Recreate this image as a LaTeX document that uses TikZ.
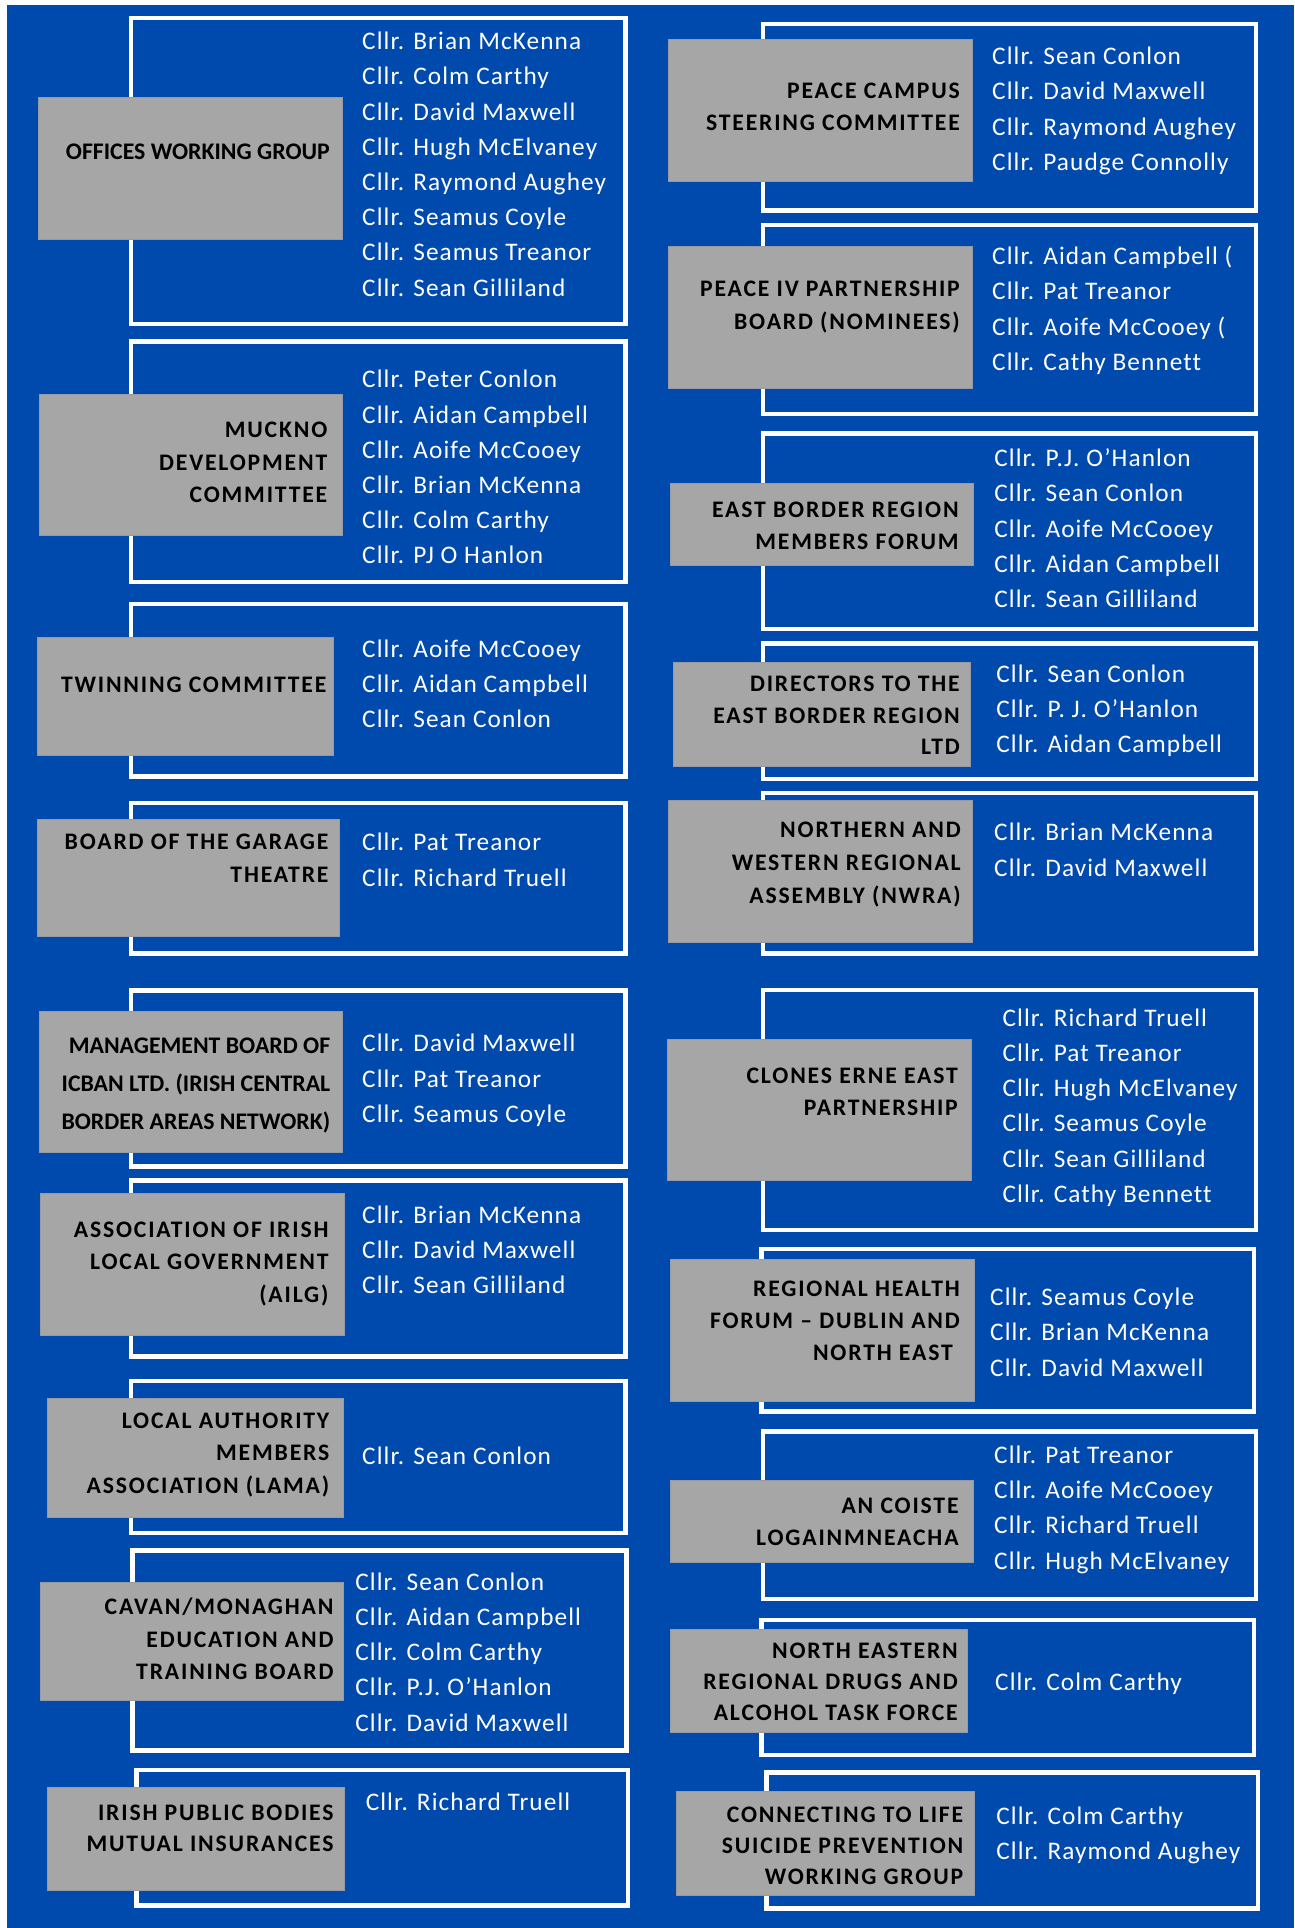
\documentclass[tikz,border=0pt]{standalone}
\usepackage{fontspec}
\newfontfamily\memfont[LetterSpace=4.3,Ligatures=NoCommon]{Carlito}
\newfontfamily\labfont[LetterSpace=7.7,Ligatures=NoCommon]{Carlito}
\newfontfamily\labtight[Ligatures=NoCommon]{Carlito}
\definecolor{bgblue}{RGB}{0,74,173}
\definecolor{boxgrey}{RGB}{166,166,166}
\definecolor{boxedge}{RGB}{150,154,165}
\newcommand\cfr[5]{\draw[frame] (#2,#3) rectangle (#4,#5);}
\newcommand\cgr[5]{\node[greybox, minimum width={#4-#2}, minimum height={#5-#3}] (#1) at (#2,#3) {};}
\newcommand\cmem[4]{\foreach \t [count=\i] in {#4} {\node[mem] (#1m\i) at (#2,{#3+8+(\i-1)*35.2}) {\t};}}
\newcommand\clab[6]{\foreach \t [count=\i] in {#6} {\node[#5] (#1l\i) at (#2,{#3+7.5+(\i-1)*#4}) {\t};}}
\begin{document}
\begin{tikzpicture}[x=1pt,y=-1pt,
  frame/.style={draw=white, line width=4.5pt},
  greybox/.style={fill=boxgrey, draw=boxedge, line width=0.6pt, inner sep=0, outer sep=0, anchor=north west},
  mem/.style={anchor=base west, inner sep=0, text=white, font=\memfont\fontsize{25.3}{30}\selectfont},
  lab/.style={anchor=base east, inner sep=0, text=black, font=\labfont\bfseries\fontsize{23.7}{28}\selectfont},
  labt/.style={anchor=base east, inner sep=0, text=black, font=\labtight\bfseries\fontsize{23.8}{28}\selectfont}]
\useasboundingbox (0,0) rectangle (1294,1928);
\fill[white] (0,0) rectangle (1294,1928);
\fill[bgblue] (7,5) rectangle (1294,1928);
% ---------- frames, left column ----------
\cfr{Af}{131}{18}{625.5}{324}
\cfr{Bf}{131}{341.6}{625.5}{582}
\cfr{Cf}{131}{604}{625.5}{776.3}
\cfr{Df}{131}{803}{625.5}{953.6}
\cfr{Ef}{131}{990.3}{625.5}{1166.3}
\cfr{Ff}{131}{1180.3}{625.5}{1356.6}
\cfr{Gf}{131}{1381.1}{625.5}{1533}
\cfr{Hf}{132.4}{1550.5}{626.3}{1750.5}
\cfr{If}{136.6}{1770}{628}{1905.5}
% ---------- frames, right column ----------
\cfr{Jf}{763}{24}{1256}{210.5}
\cfr{Kf}{763}{224.8}{1256}{414}
\cfr{Lf}{763}{433.5}{1256}{628.8}
\cfr{Mf}{763}{643.5}{1256}{778.8}
\cfr{Nf}{763}{793}{1256}{953.3}
\cfr{Of}{763}{990.2}{1256}{1230.1}
\cfr{Pf}{761.5}{1249}{1254}{1411.5}
\cfr{Qf}{763}{1431.3}{1256}{1599.2}
\cfr{Rf}{761.5}{1619.8}{1254}{1755}
\cfr{Sf}{766.7}{1772.5}{1258}{1908.5}
% ---------- grey boxes ----------
\cgr{Ag}{38}{97}{342}{239}
\cgr{Bg}{39.4}{394}{342.4}{535.2}
\cgr{Cg}{37.3}{636.8}{333.7}{755.5}
\cgr{Dg}{37.3}{818.8}{339}{936.7}
\cgr{Eg}{39}{1011}{342.4}{1152}
\cgr{Fg}{39.8}{1193.5}{344}{1335.2}
\cgr{Gg}{46.8}{1398.4}{343.2}{1517}
\cgr{Hg}{40.6}{1582.7}{343.2}{1700.7}
\cgr{Ig}{46.8}{1787.3}{344}{1890.7}
\cgr{Jg}{668.5}{39}{972.4}{181}
\cgr{Kg}{668.5}{246.7}{972.4}{388.3}
\cgr{Lg}{670.5}{483.1}{973.2}{565.6}
\cgr{Mg}{673.4}{662}{970.3}{766.2}
\cgr{Ng}{668.5}{800.6}{972.4}{942.7}
\cgr{Og}{667.2}{1038.9}{971.2}{1180.6}
\cgr{Pg}{670.5}{1259.2}{974.5}{1400.9}
\cgr{Qg}{670.5}{1480.5}{973.2}{1562.3}
\cgr{Rg}{670.5}{1629}{967.5}{1732.3}
\cgr{Sg}{676.7}{1791.7}{974.5}{1895}
% ---------- labels ----------
\clab{A}{330}{152}{32.4}{labt}{OFFICES WORKING GROUP}
\clab{B}{327.5}{430}{32.6}{lab}{MUCKNO, DEVELOPMENT, COMMITTEE}
\clab{C}{326.6}{685}{32.4}{lab}{TWINNING COMMITTEE}
\clab{D}{328.7}{842.4}{33}{lab}{BOARD OF THE GARAGE, THEATRE}
\clab{E}{330.4}{1046}{37.8}{labt}{MANAGEMENT BOARD OF, ICBAN LTD. (IRISH CENTRAL, BORDER AREAS NETWORK)}
\clab{F}{328.7}{1229.5}{32.7}{lab}{ASSOCIATION OF IRISH, LOCAL GOVERNMENT, (AILG)}
\clab{G}{329.5}{1420.9}{32.5}{lab}{LOCAL AUTHORITY, MEMBERS, ASSOCIATION (LAMA)}
\clab{H}{333.7}{1607.3}{32.2}{lab}{CAVAN/MONAGHAN, EDUCATION AND, TRAINING BOARD}
\clab{I}{333.7}{1813.3}{30.7}{lab}{IRISH PUBLIC BODIES, MUTUAL INSURANCES}
\clab{J}{960}{90.7}{32.6}{lab}{PEACE CAMPUS, STEERING COMMITTEE}
\clab{K}{960}{289}{33.3}{lab}{PEACE IV PARTNERSHIP, BOARD (NOMINEES)}
\clab{L}{958.8}{509.5}{32.6}{lab}{EAST BORDER REGION, MEMBERS FORUM}
\clab{M}{960}{684.2}{31.5}{lab}{DIRECTORS TO THE, EAST BORDER REGION, LTD}
\clab{N}{960.9}{830.4}{32.8}{lab}{NORTHERN AND, WESTERN REGIONAL, ASSEMBLY (NWRA)}
\clab{O}{958}{1076}{32.2}{lab}{CLONES ERNE EAST, PARTNERSHIP}
\clab{P}{960}{1288.8}{32.1}{lab}{REGIONAL HEALTH, FORUM – DUBLIN AND, {NORTH EAST\kern7pt}}
\clab{Q}{958.8}{1505.5}{32.8}{lab}{AN COISTE, LOGAINMNEACHA}
\clab{R}{958}{1650.7}{31.3}{lab}{NORTH EASTERN, REGIONAL DRUGS AND, ALCOHOL TASK FORCE}
\clab{S}{963.4}{1815}{30.9}{lab}{CONNECTING TO LIFE, SUICIDE PREVENTION, WORKING GROUP}
% ---------- members ----------
\cmem{A}{362}{41.7}{Cllr. Brian McKenna, Cllr. Colm Carthy, Cllr. David Maxwell, Cllr. Hugh McElvaney, Cllr. Raymond Aughey, Cllr. Seamus Coyle, Cllr. Seamus Treanor, Cllr. Sean Gilliland}
\cmem{B}{362}{379.8}{Cllr. Peter Conlon, Cllr. Aidan Campbell, Cllr. Aoife McCooey, Cllr. Brian McKenna, Cllr. Colm Carthy, Cllr. PJ O Hanlon}
\cmem{C}{362}{649}{Cllr. Aoife McCooey, Cllr. Aidan Campbell, Cllr. Sean Conlon}
\cmem{D}{362}{842.9}{Cllr. Pat Treanor, Cllr. Richard Truell}
\cmem{E}{362}{1043.9}{Cllr. David Maxwell, Cllr. Pat Treanor, Cllr. Seamus Coyle}
\cmem{F}{362}{1215.3}{Cllr. Brian McKenna, Cllr. David Maxwell, Cllr. Sean Gilliland}
\cmem{G}{362}{1456.2}{Cllr. Sean Conlon}
\cmem{H}{355.2}{1582.3}{Cllr. Sean Conlon, Cllr. Aidan Campbell, Cllr. Colm Carthy, Cllr. P.J. O’Hanlon, Cllr. David Maxwell}
\cmem{I}{365.6}{1802.7}{Cllr. Richard Truell}
\cmem{J}{992}{56.7}{Cllr. Sean Conlon, Cllr. David Maxwell, Cllr. Raymond Aughey, Cllr. Paudge Connolly}
\cmem{K}{992}{256.7}{{Cllr. Aidan Campbell (}, Cllr. Pat Treanor, {Cllr. Aoife McCooey (}, Cllr. Cathy Bennett}
\cmem{L}{994.2}{458.6}{Cllr. P.J. O’Hanlon, Cllr. Sean Conlon, Cllr. Aoife McCooey, Cllr. Aidan Campbell, Cllr. Sean Gilliland}
\cmem{M}{996.2}{674.3}{Cllr. Sean Conlon, Cllr. P. J. O’Hanlon, Cllr. Aidan Campbell}
\cmem{N}{994}{832.9}{Cllr. Brian McKenna, Cllr. David Maxwell}
\cmem{O}{1002.4}{1018.2}{Cllr. Richard Truell, Cllr. Pat Treanor, Cllr. Hugh McElvaney, Cllr. Seamus Coyle, Cllr. Sean Gilliland, Cllr. Cathy Bennett}
\cmem{P}{990}{1297.7}{Cllr. Seamus Coyle, Cllr. Brian McKenna, Cllr. David Maxwell}
\cmem{Q}{994}{1455.5}{Cllr. Pat Treanor, Cllr. Aoife McCooey, Cllr. Richard Truell, Cllr. Hugh McElvaney}
\cmem{R}{995}{1682.7}{Cllr. Colm Carthy}
\cmem{S}{996.2}{1816.7}{Cllr. Colm Carthy, Cllr. Raymond Aughey}
\end{tikzpicture}
\end{document}
